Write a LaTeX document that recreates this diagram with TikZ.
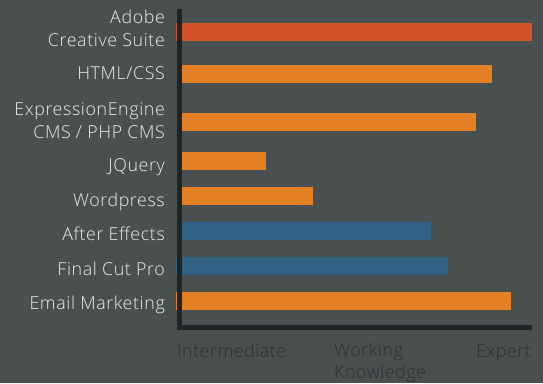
\documentclass[tikz,border=0pt]{standalone}
\usepackage{fontspec}
\setmainfont{Open Sans Light}
\usetikzlibrary{positioning}

\definecolor{chartbg}{HTML}{4A4F50}
\definecolor{axisdark}{HTML}{1F2426}
\definecolor{levelgray}{HTML}{2B3032}
\definecolor{skillgray}{HTML}{ECECEC}
\definecolor{barred}{HTML}{D3522A}
\definecolor{barorange}{HTML}{E47F26}
\definecolor{barblue}{HTML}{336184}

\begin{document}
\begin{tikzpicture}[x=1pt,y=-1pt,
    skill/.style={text=skillgray, inner sep=0pt, align=right,
        font=\fontsize{17.8}{23}\selectfont\addfontfeatures{LetterSpace=3.5}},
    level/.style={text=levelgray, inner sep=0pt, align=left,
        font=\fontsize{18}{22}\selectfont\addfontfeatures{LetterSpace=2.5}}]
    \fill[chartbg] (0,0) rectangle (543,383);
    \useasboundingbox (0,0) rectangle (543,383);
    % bars
    \fill[barred] (176,23) rectangle (532,41);
    \fill[barorange] (177,65) rectangle (492,83);
    \fill[barorange] (177,113) rectangle (476,131);
    \fill[barorange] (177,152) rectangle (266,170);
    \fill[barorange] (177,187) rectangle (313,205);
    \fill[barblue] (177,222) rectangle (431,240);
    \fill[barblue] (176,257) rectangle (448,275);
    \fill[barorange] (176,292) rectangle (511,310);
    % axes
    \fill[axisdark] (177,9) rectangle (182,330);
    \fill[axisdark] (177,325) rectangle (532,330);
    % skill names
    \node[skill, anchor=north east] (adobe) at (165,9.5) {Adobe\\Creative Suite};
    \node[skill, anchor=base east] (html) at (165,79) {HTML/CSS};
    \node[skill, anchor=north east] (ee) at (165,102.5) {ExpressionEngine\\CMS / PHP CMS};
    \node[skill, anchor=base east] (jquery) at (165,171) {JQuery};
    \node[skill, anchor=base east] (wordpress) at (165,206) {Wordpress};
    \node[skill, anchor=base east] (aftereffects) at (165,240) {After Effects};
    \node[skill, anchor=base east] (finalcut) at (165,275) {Final Cut Pro};
    \node[skill, anchor=base east] (email) at (165,309) {Email Marketing};
    % levels
    \node[level, anchor=base west] (intermediate) at (177,357) {Intermediate};
    \node[level, anchor=north west] (working) at (334,342.5) {Working\\Knowledge};
    \node[level, anchor=base east] (expert) at (531,357) {Expert};
\end{tikzpicture}
\end{document}
